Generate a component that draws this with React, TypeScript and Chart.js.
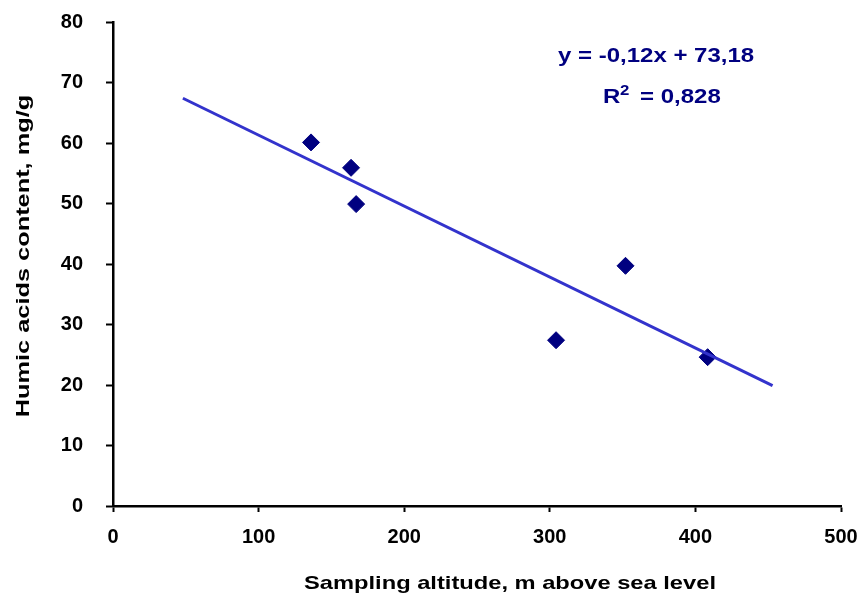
import React, { useEffect, useRef } from 'react';
import { Chart, registerables } from 'chart.js';

Chart.register(...registerables);

// ---- data ----
const altitude = [136, 163.5, 167, 304.3, 352, 408.4];
const humicAcids = [60.1, 55.9, 49.9, 27.4, 39.7, 24.6];
const trendAltitude = [48, 453];
const trendHumic = [67.4, 19.9];
const xRange = [0, 500];
const yRange = [0, 80];
const xStep = 100;
const yStep = 10;
const xTitle = 'Sampling altitude, m above sea level';
const yTitle = 'Humic acids content, mg/g';
const eqLine = 'y = -0,12x + 73,18';
const r2Label = 'R';
const r2Sup = '2';
const r2Value = '= 0,828';

const FONT = "'Liberation Sans', Arial, sans-serif";
const NAVY = '#000080';
const TREND = '#3333CC';

function drawStretched(
  ctx: CanvasRenderingContext2D,
  text: string,
  x: number,
  y: number,
  size: number,
  sx: number,
  color: string,
  align: CanvasTextAlign,
  rotate = false
) {
  ctx.save();
  ctx.translate(x, y);
  if (rotate) ctx.rotate(-Math.PI / 2);
  ctx.scale(sx, 1);
  ctx.font = `bold ${size}px ${FONT}`;
  ctx.fillStyle = color;
  ctx.textAlign = align;
  ctx.textBaseline = 'alphabetic';
  ctx.fillText(text, 0, 0);
  ctx.restore();
}

const textPlugin = {
  id: 'customText',
  afterDraw(chart: any) {
    const ctx = chart.ctx as CanvasRenderingContext2D;
    ctx.save();
    // axis titles
    drawStretched(ctx, xTitle, 510, 589, 18.5, 1.28, '#000', 'center');
    drawStretched(ctx, yTitle, 29, 256, 18.5, 1.37, '#000', 'center', true);
    // regression equation
    drawStretched(ctx, eqLine, 558, 62, 20, 1.2, NAVY, 'left');
    drawStretched(ctx, r2Label, 603, 103, 20, 1.2, NAVY, 'left');
    drawStretched(ctx, r2Sup, 620, 95, 14, 1.2, NAVY, 'left');
    drawStretched(ctx, r2Value, 640, 103, 20, 1.2, NAVY, 'left');
    ctx.restore();
  },
};

export default function App() {
  const canvasRef = useRef<HTMLCanvasElement | null>(null);

  useEffect(() => {
    if (!canvasRef.current) return;
    const points = altitude.map((x, i) => ({ x, y: humicAcids[i] }));
    const trend = trendAltitude.map((x, i) => ({ x, y: trendHumic[i] }));
    const chart = new Chart(canvasRef.current, {
      type: 'scatter',
      data: {
        datasets: [
          {
            label: 'Trend',
            data: trend,
            showLine: true,
            borderColor: TREND,
            borderWidth: 3,
            pointRadius: 0,
            fill: false,
          },
          {
            label: 'Humic acids',
            data: points,
            pointStyle: 'rectRot',
            pointRadius: 8.5,
            pointBorderWidth: 1,
            pointBackgroundColor: NAVY,
            pointBorderColor: NAVY,
            showLine: false,
          },
        ],
      },
      options: {
        responsive: false,
        animation: false,
        layout: { padding: { left: 0, top: 22, right: 20, bottom: 0 } },
        plugins: {
          legend: { display: false },
          tooltip: { enabled: false },
          title: { display: false },
        },
        scales: {
          x: {
            type: 'linear',
            min: xRange[0],
            max: xRange[1],
            ticks: {
              stepSize: xStep,
              color: '#000',
              font: { family: FONT, size: 20, weight: 'bold' },
              padding: 13,
              maxRotation: 0,
            },
            grid: {
              drawOnChartArea: false,
              drawTicks: true,
              tickLength: 6,
              tickWidth: 2,
              tickColor: '#000',
              color: '#000',
            },
            border: { color: '#000', width: 2.5 },
            afterFit: (s: any) => {
              s.height = 90;
              s.paddingLeft = 0;
              s.paddingRight = 0;
            },
          },
          y: {
            type: 'linear',
            min: yRange[0],
            max: yRange[1],
            ticks: {
              stepSize: yStep,
              color: '#000',
              font: { family: FONT, size: 20, weight: 'bold' },
              padding: 23,
            },
            grid: {
              drawOnChartArea: false,
              drawTicks: true,
              tickLength: 7,
              tickWidth: 2,
              tickColor: '#000',
              color: '#000',
            },
            border: { color: '#000', width: 2.5 },
            afterFit: (s: any) => {
              s.width = 113;
              s.paddingTop = 0;
              s.paddingBottom = 0;
            },
          },
        },
      },
      plugins: [textPlugin],
    } as any);
    return () => chart.destroy();
  }, []);

  return (
    <div style={{ position: 'fixed', left: 0, top: 0, width: 861, height: 596, background: '#fff' }}>
      <canvas ref={canvasRef} width={861} height={596} style={{ display: 'block' }} />
    </div>
  );
}
